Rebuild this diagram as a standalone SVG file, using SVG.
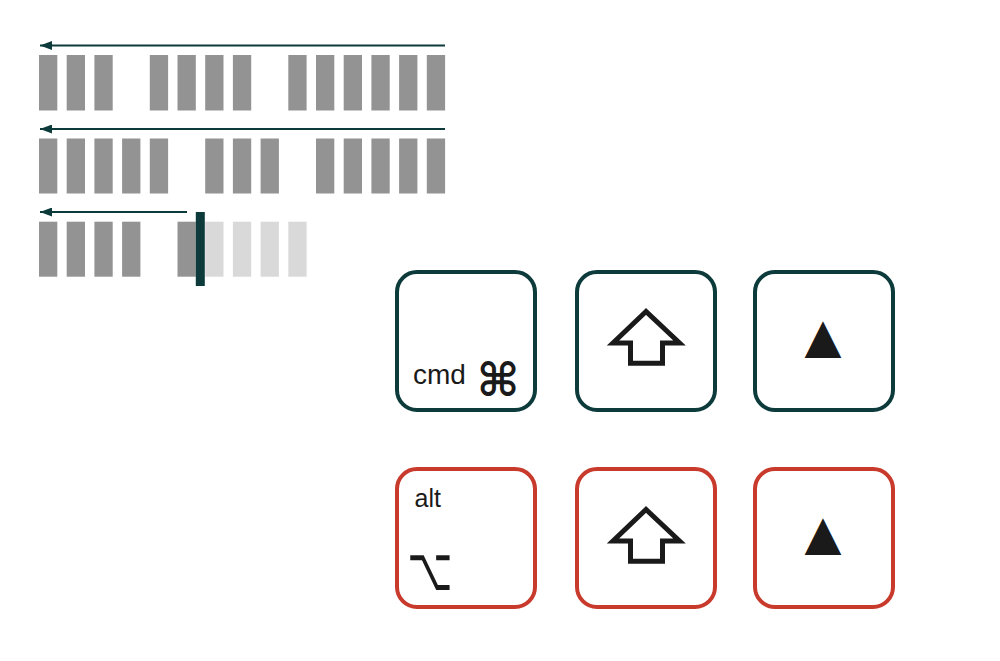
<svg xmlns="http://www.w3.org/2000/svg" width="1000" height="661" viewBox="0 0 1000 661">
<defs>
<marker id="ah" viewBox="0 0 12 9" refX="12" refY="4.5" markerWidth="12" markerHeight="9" markerUnits="userSpaceOnUse" orient="auto">
<path d="M0,0 L12,4.5 L0,9 Z" fill="#0d3b3b"/>
</marker>
<path id="shift" d="M646,311.5 L613,343 L630.5,343 L630.5,363.3 L662.5,363.3 L662.5,343 L679.5,343 Z"/>
<style>
.bar{fill:#939393}
.lt{fill:#d9d9d9}
.flow{stroke:#0d3b3b;stroke-width:2;fill:none}
.kt{fill:#fff;stroke:#0d3b3b;stroke-width:4}
.kr{fill:#fff;stroke:#c83a2c;stroke-width:4}
.lbl{font-family:"Liberation Sans",Arial,sans-serif;fill:#1a1a1a}
.sym{font-family:"DejaVu Sans",sans-serif;fill:#1a1a1a;text-anchor:middle}
.arw{fill:none;stroke:#1a1a1a;stroke-width:5;stroke-linejoin:miter}
</style>
</defs>
<rect width="1000" height="661" fill="#fff"/>
<g id="connectors">
<line class="flow" x1="445" y1="45.5" x2="40" y2="45.5" marker-end="url(#ah)"/>
<line class="flow" x1="445" y1="129" x2="40" y2="129" marker-end="url(#ah)"/>
<line class="flow" x1="187" y1="212" x2="40" y2="212" marker-end="url(#ah)"/>
</g>
<g id="row1">
<rect class="bar" x="39" y="55" width="18.3" height="55.5"/>
<rect class="bar" x="66.7" y="55" width="18.3" height="55.5"/>
<rect class="bar" x="94.4" y="55" width="18.3" height="55.5"/>
<rect class="bar" x="149.8" y="55" width="18.3" height="55.5"/>
<rect class="bar" x="177.5" y="55" width="18.3" height="55.5"/>
<rect class="bar" x="205.2" y="55" width="18.3" height="55.5"/>
<rect class="bar" x="232.9" y="55" width="18.3" height="55.5"/>
<rect class="bar" x="288.3" y="55" width="18.3" height="55.5"/>
<rect class="bar" x="316" y="55" width="18.3" height="55.5"/>
<rect class="bar" x="343.7" y="55" width="18.3" height="55.5"/>
<rect class="bar" x="371.4" y="55" width="18.3" height="55.5"/>
<rect class="bar" x="399.1" y="55" width="18.3" height="55.5"/>
<rect class="bar" x="426.8" y="55" width="18.3" height="55.5"/>
</g>
<g id="row2">
<rect class="bar" x="39" y="138.5" width="18.3" height="55"/>
<rect class="bar" x="66.7" y="138.5" width="18.3" height="55"/>
<rect class="bar" x="94.4" y="138.5" width="18.3" height="55"/>
<rect class="bar" x="122.1" y="138.5" width="18.3" height="55"/>
<rect class="bar" x="149.8" y="138.5" width="18.3" height="55"/>
<rect class="bar" x="205.2" y="138.5" width="18.3" height="55"/>
<rect class="bar" x="232.9" y="138.5" width="18.3" height="55"/>
<rect class="bar" x="260.6" y="138.5" width="18.3" height="55"/>
<rect class="bar" x="316" y="138.5" width="18.3" height="55"/>
<rect class="bar" x="343.7" y="138.5" width="18.3" height="55"/>
<rect class="bar" x="371.4" y="138.5" width="18.3" height="55"/>
<rect class="bar" x="399.1" y="138.5" width="18.3" height="55"/>
<rect class="bar" x="426.8" y="138.5" width="18.3" height="55"/>
</g>
<g id="row3">
<rect class="bar" x="39" y="221.7" width="18.3" height="55"/>
<rect class="bar" x="66.7" y="221.7" width="18.3" height="55"/>
<rect class="bar" x="94.4" y="221.7" width="18.3" height="55"/>
<rect class="bar" x="122.1" y="221.7" width="18.3" height="55"/>
<rect class="bar" x="177.5" y="221.7" width="18.3" height="55"/>
<rect class="lt" x="205.2" y="221.7" width="18.3" height="55"/>
<rect class="lt" x="232.9" y="221.7" width="18.3" height="55"/>
<rect class="lt" x="260.6" y="221.7" width="18.3" height="55"/>
<rect class="lt" x="288.3" y="221.7" width="18.3" height="55"/>
<rect x="195.8" y="212" width="9" height="74" fill="#0d3b3b"/>
</g>
<g id="key-cmd">
<rect class="kt" x="397" y="272" width="138" height="138" rx="20"/>
<text class="lbl" x="413" y="384" font-size="28">cmd</text>
<text class="sym" x="498" y="396" font-size="46" font-weight="bold">⌘</text>
</g>
<g id="key-shift-1">
<rect class="kt" x="577" y="272" width="138" height="138" rx="20"/>
<use href="#shift" class="arw"/>
</g>
<g id="key-up-1">
<rect class="kt" x="755" y="272" width="138" height="138" rx="20"/>
<text class="sym" x="823" y="352" font-size="48">▲</text>
</g>
<g id="key-alt">
<rect class="kr" x="397" y="469" width="138" height="138" rx="20"/>
<text class="lbl" x="414.5" y="506.5" font-size="25">alt</text>
<text class="sym" font-size="48" transform="translate(430,590) scale(0.82,1.25)">⌥</text>
</g>
<g id="key-shift-2">
<rect class="kr" x="577" y="469" width="138" height="138" rx="20"/>
<use href="#shift" class="arw" transform="translate(0,198)"/>
</g>
<g id="key-up-2">
<rect class="kr" x="755" y="469" width="138" height="138" rx="20"/>
<text class="sym" x="823" y="549" font-size="48">▲</text>
</g>
</svg>
